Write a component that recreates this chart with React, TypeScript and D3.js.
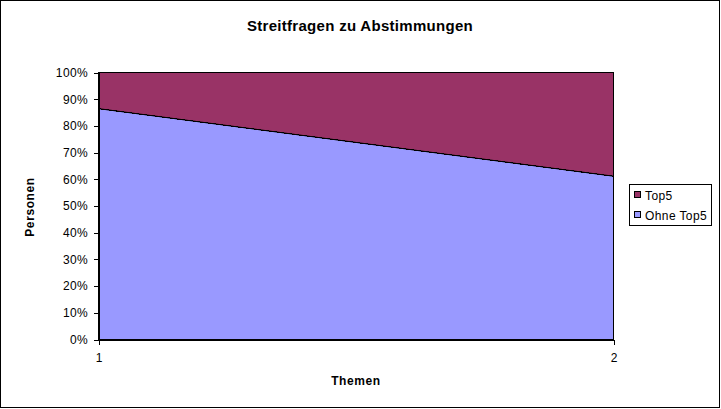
import { useEffect, useRef } from 'react';
import * as d3 from 'd3';

const categories = ["1", "2"];
const ohneTop5 = [86.3, 61.0];
const top5 = [13.7, 39.0];
const yTicks = [0, 10, 20, 30, 40, 50, 60, 70, 80, 90, 100];

const App = () => {
  const svgRef = useRef<SVGSVGElement>(null);

  useEffect(() => {
    if (!svgRef.current) return;
    const svg = d3.select(svgRef.current);
    svg.selectAll("*").remove();

    const W = 721, H = 409;
    const left = 98, right = 613, top = 72, bottom = 339;
    const font = "Liberation Sans, Arial, sans-serif";

    // outer frame
    svg.append("rect").attr("x", 0.5).attr("y", 0.5).attr("width", W - 2).attr("height", H - 2)
      .attr("fill", "white").attr("stroke", "black");

    const x = d3.scalePoint<string>().domain(categories).range([left, right]);
    const y = d3.scaleLinear().domain([0, 100]).range([bottom, top]);

    const rows = categories.map((c, i) => ({ cat: c, ohne: ohneTop5[i], top: top5[i] }));
    const stack = d3.stack<any>().keys(["ohne", "top"])(rows);
    const colors = ["#9999FF", "#993366"];

    const area = d3.area<any>()
      .x((d) => x(d.data.cat)!)
      .y0((d) => y(d[0]))
      .y1((d) => y(d[1]));

    svg.append("g").selectAll("path").data(stack).enter().append("path")
      .attr("d", (s) => area(s as any)!)
      .attr("fill", (_, i) => colors[i])
      .attr("stroke", "black")
      .attr("stroke-width", 1)
      .attr("shape-rendering", "crispEdges");

    // boundary line between the two series
    const line = d3.line<any>().x((d) => x(d.data.cat)!).y((d) => y(d[1]));
    svg.append("path").attr("d", line(stack[0] as any)!).attr("fill", "none").attr("stroke", "black");

    // y axis
    const yAxis = d3.axisLeft(y).tickValues(yTicks).tickSize(5).tickSizeOuter(0)
      .tickFormat((d) => `${d}%`);
    const gy = svg.append("g").attr("transform", `translate(${left + 0.5},0.5)`).call(yAxis);
    gy.selectAll("text").attr("font-family", font).attr("font-size", 12).attr("letter-spacing", 0.4)
      .attr("fill", "black").attr("dx", "-0.2em");
    gy.selectAll("line,path").attr("stroke", "black").attr("shape-rendering", "crispEdges");

    // x axis
    const xAxis = d3.axisBottom(x).tickSize(5).tickSizeOuter(0);
    const gx = svg.append("g").attr("transform", `translate(0.5,${bottom + 0.5})`).call(xAxis);
    gx.selectAll("text").attr("font-family", font).attr("font-size", 12).attr("fill", "black").attr("dy", "1.2em");
    gx.selectAll("line,path").attr("stroke", "black").attr("shape-rendering", "crispEdges");

    // titles
    svg.append("text").attr("x", 360).attr("y", 31).attr("text-anchor", "middle")
      .attr("font-family", font).attr("font-size", 15).attr("font-weight", "bold").attr("letter-spacing", 0.3)
      .text("Streitfragen zu Abstimmungen");
    svg.append("text").attr("x", 356).attr("y", 385).attr("text-anchor", "middle")
      .attr("font-family", font).attr("font-size", 12).attr("font-weight", "bold").attr("letter-spacing", 0.6)
      .text("Themen");
    svg.append("text").attr("transform", "translate(34,207) rotate(-90)").attr("text-anchor", "middle")
      .attr("font-family", font).attr("font-size", 12).attr("font-weight", "bold").attr("letter-spacing", 0.6)
      .text("Personen");

    // legend
    const lg = svg.append("g");
    lg.append("rect").attr("x", 629.5).attr("y", 184.5).attr("width", 82).attr("height", 41)
      .attr("fill", "white").attr("stroke", "black");
    const items = [{ name: "Top5", color: colors[1] }, { name: "Ohne Top5", color: colors[0] }];
    items.forEach((it, i) => {
      const cy = 195 + i * 20;
      lg.append("rect").attr("x", 634.5).attr("y", cy - 3.5).attr("width", 6).attr("height", 6)
        .attr("fill", it.color).attr("stroke", "black");
      lg.append("text").attr("x", 645).attr("y", cy + 4.5).attr("font-family", font).attr("font-size", 12)
        .attr("letter-spacing", 0.4).text(it.name);
    });
  }, []);

  return (
    <svg ref={svgRef} width={721} height={409}
      style={{ position: "absolute", left: 0, top: 0, background: "white" }} />
  );
};

export default App;
